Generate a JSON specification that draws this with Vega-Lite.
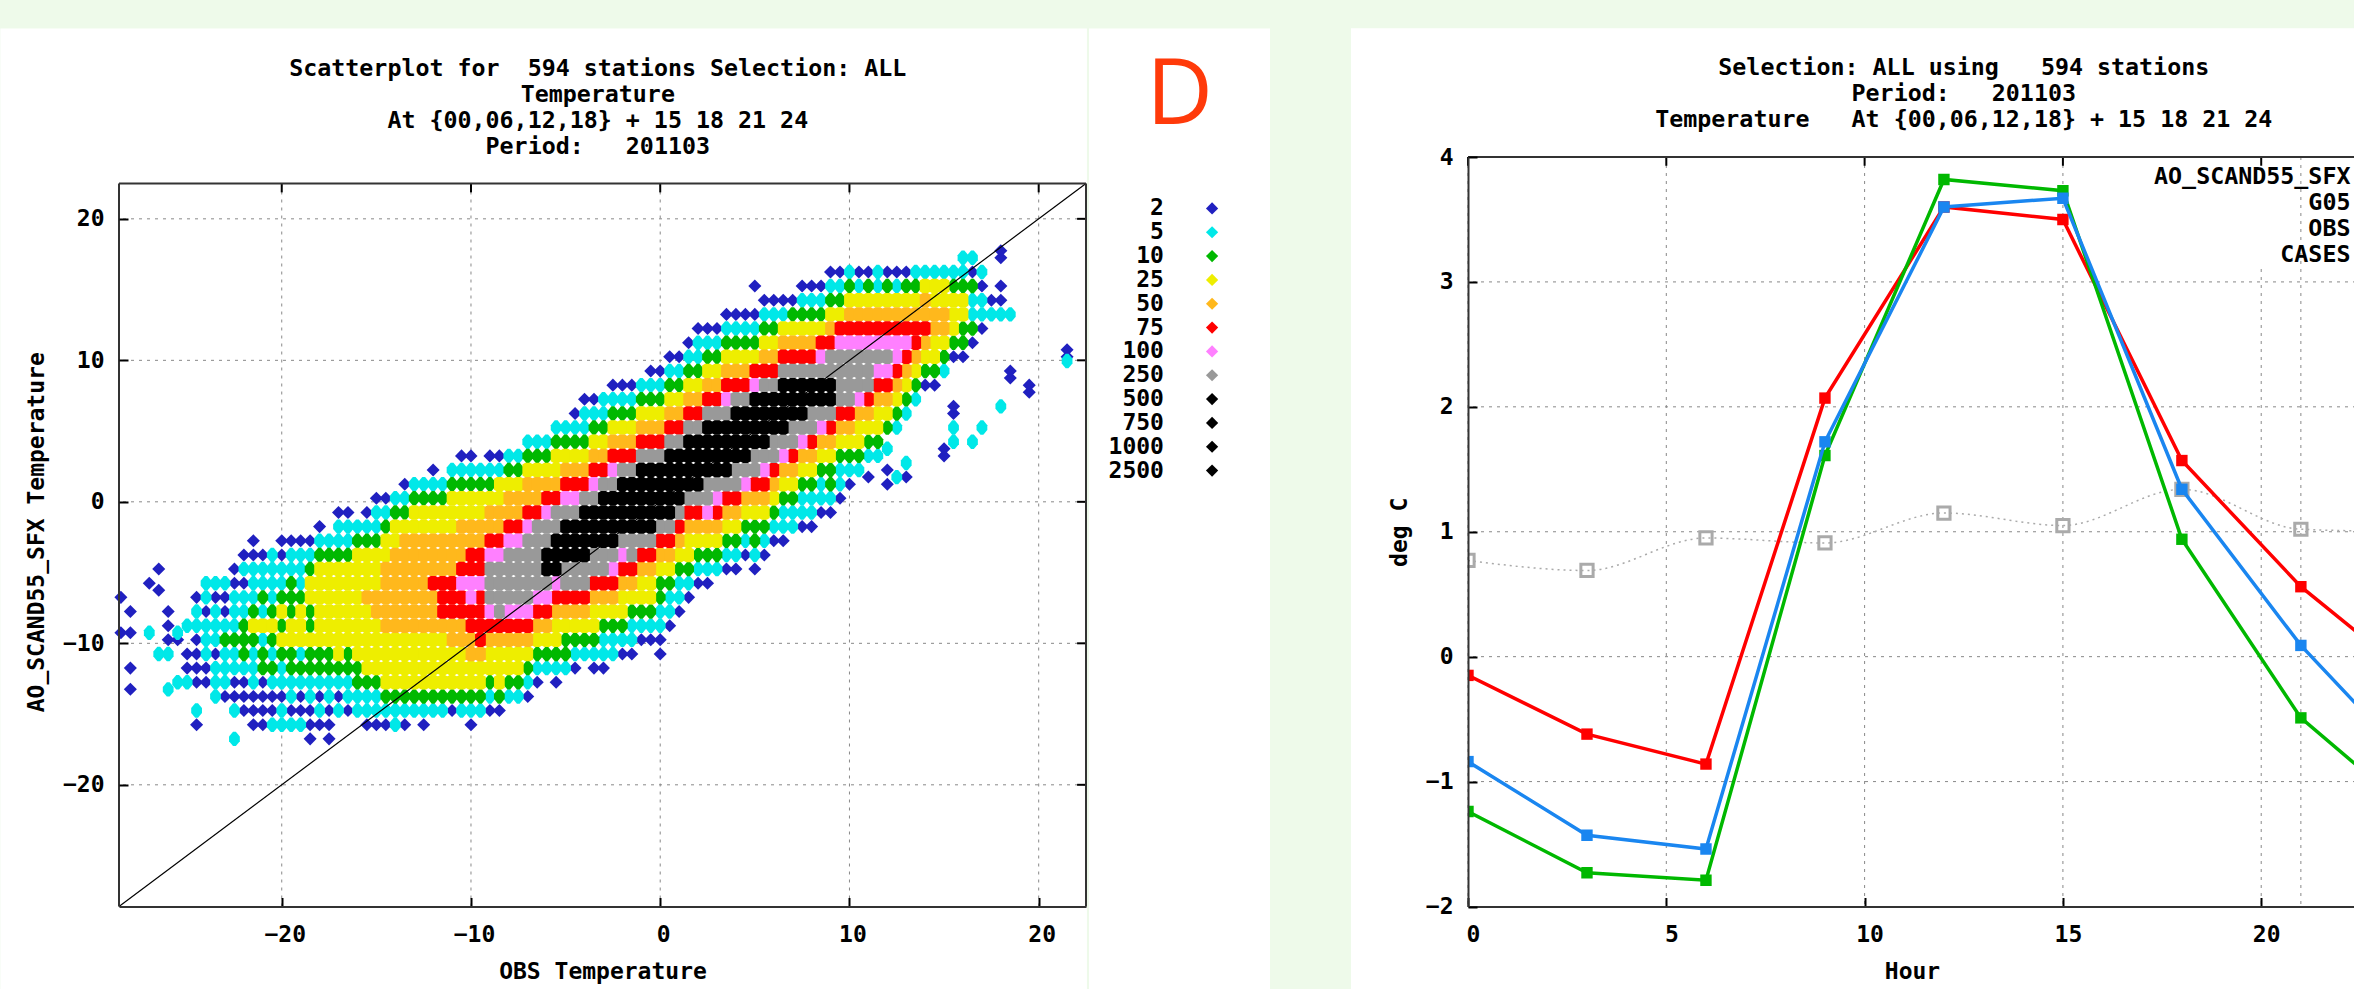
{"$schema":"https://vega.github.io/schema/vega-lite/v6.json","background":"#eefaea","padding":{"left":0,"top":28,"right":0,"bottom":0},"autosize":{"type":"pad"},"config":{"view":{"stroke":null},"font":"DejaVu Sans Mono","axis":{"labelFont":"DejaVu Sans Mono","titleFont":"DejaVu Sans Mono","labelFontWeight":"bold","titleFontWeight":"bold","labelFontSize":23,"titleFontSize":23,"labelColor":"#000","titleColor":"#000","domainColor":"#333","domainWidth":2,"tickColor":"#000","tickWidth":2,"grid":false}},"resolve":{"scale":{"color":"independent"}},"hconcat":[{"resolve":{"scale":{"color":"independent"}},"hconcat":[{"width":967,"height":749.5,"layer":[{"data":{"values":[{}]},"mark":{"type":"rect","fill":"white"},"encoding":{"x":{"datum":-34.87,"scale":{"domain":[-28.6,22.5],"nice":false,"zero":false},"axis":{"values":[-20,-10,0,10,20],"title":"OBS Temperature","tickSize":-9,"labelPadding":26,"titlePadding":14,"labelOffset":3,"labelFlush":false,"labelOverlap":false,"zindex":1}},"x2":{"datum":22.55},"y":{"datum":33.45,"scale":{"domain":[-28.6,24.37],"nice":false,"zero":false},"axis":{"values":[-20,-10,0,10,20],"title":"AO_SCAND55_SFX Temperature","tickSize":-9,"labelPadding":24,"titlePadding":14,"zindex":1,"domain":false}},"y2":{"datum":-34.47}}},{"data":{"name":"ticks"},"mark":{"type":"rule","color":"#888","strokeWidth":1,"strokeDash":[3,5]},"encoding":{"x":{"field":"v","type":"quantitative"},"y":{"datum":-28.6},"y2":{"datum":22.5}}},{"data":{"name":"ticks"},"mark":{"type":"rule","color":"#888","strokeWidth":1,"strokeDash":[3,5]},"encoding":{"y":{"field":"v","type":"quantitative"}}},{"data":{"name":"cells"},"transform":[{"filter":"datum.n<=2"}],"mark":{"type":"point","filled":true,"shape":"diamond","size":170,"opacity":1,"yOffset":-3.5},"encoding":{"x":{"field":"x","type":"quantitative"},"y":{"field":"y","type":"quantitative"},"color":{"value":"#2020c0"}}},{"data":{"name":"cells"},"transform":[{"filter":"datum.n==5||datum.n==10"}],"mark":{"type":"point","filled":true,"opacity":1,"size":196,"yOffset":-3.5,"shape":"M-0.2,-1.03L0.2,-1.03L0.77,-0.35L0.77,0.35L0.2,1.03L-0.2,1.03L-0.77,0.35L-0.77,-0.35Z"},"encoding":{"x":{"field":"x","type":"quantitative"},"y":{"field":"y","type":"quantitative"},"color":{"field":"n","type":"ordinal","legend":null,"scale":{"domain":[2,5,10,25,50,75,100,250,500,750,1000,2500],"range":["#2020c0","#00e8e8","#00b800","#eeee00","#ffb81c","#ff0000","#ff80ff","#999999","#000000","#000000","#000000","#000000"]}},"order":{"field":"n"}}},{"data":{"name":"cells"},"transform":[{"filter":"datum.n>10"}],"mark":{"type":"point","filled":true,"opacity":1,"size":196,"yOffset":-3.5,"shape":"M-0.35,-1.03L0.35,-1.03L0.77,-0.78L0.77,0.78L0.35,1.03L-0.35,1.03L-0.77,0.78L-0.77,-0.78Z"},"encoding":{"x":{"field":"x","type":"quantitative"},"y":{"field":"y","type":"quantitative"},"color":{"field":"n","type":"ordinal","legend":null},"order":{"field":"n"}}},{"data":{"values":[{"a":-28.6},{"a":22.5}]},"mark":{"type":"line","color":"#000","strokeWidth":1.2},"encoding":{"x":{"field":"a","type":"quantitative"},"y":{"field":"a","type":"quantitative"}}},{"data":{"name":"ticks"},"mark":{"type":"rule","color":"#000","strokeWidth":2},"encoding":{"x":{"field":"v","type":"quantitative"},"y":{"datum":22.5},"y2":{"datum":21.87}}},{"data":{"name":"ticks"},"mark":{"type":"rule","color":"#000","strokeWidth":2},"encoding":{"y":{"field":"v","type":"quantitative"},"x":{"datum":22.5},"x2":{"datum":22.03}}},{"data":{"values":[{}]},"mark":{"type":"rule","color":"#333","strokeWidth":2},"encoding":{"x":{"datum":-28.6},"x2":{"datum":22.5},"y":{"datum":22.5}}},{"data":{"values":[{}]},"mark":{"type":"rule","color":"#333","strokeWidth":2},"encoding":{"x":{"datum":22.5},"y":{"datum":-28.6},"y2":{"datum":22.5}}},{"data":{"values":[{}]},"mark":{"type":"rule","color":"#333","strokeWidth":2},"encoding":{"x":{"datum":-28.6},"y":{"datum":-28.6},"y2":{"datum":22.5}}},{"data":{"values":[{}]},"mark":{"type":"text","align":"center","baseline":"top","font":"DejaVu Sans Mono","fontWeight":"bold","fontSize":23.3,"lineHeight":26,"color":"#000"},"encoding":{"x":{"datum":-3.3},"y":{"datum":31.4},"text":{"value":["Scatterplot for \u00a0594 stations Selection: ALL","Temperature","At {00,06,12,18} + 15 18 21 24","Period: \u00a0 201103"]}}}]},{"width":181,"height":749.5,"resolve":{"scale":{"y":"independent"}},"layer":[{"data":{"values":[{}]},"mark":{"type":"rect","fill":"white"},"encoding":{"x":{"datum":0,"scale":{"domain":[0,1],"nice":false},"axis":null},"x2":{"datum":1},"y":{"datum":1.1714,"scale":{"domain":[0,1],"nice":false},"axis":null},"y2":{"datum":-0.1107}}},{"data":{"name":"legend"},"mark":{"type":"text","align":"right","baseline":"middle","font":"DejaVu Sans Mono","fontWeight":"bold","fontSize":23,"color":"#000"},"encoding":{"x":{"datum":0.414},"y":{"field":"n","type":"ordinal","sort":null,"axis":null,"scale":{"type":"point","range":[39.5,325.5]}},"text":{"field":"n"}}},{"data":{"name":"legend"},"mark":{"type":"point","filled":true,"shape":"diamond","size":150,"opacity":1},"encoding":{"x":{"datum":0.68},"y":{"field":"n","type":"ordinal","sort":null,"axis":null,"scale":{"type":"point","range":[39.5,325.5]}},"color":{"field":"n","type":"ordinal","legend":null,"scale":{"domain":[2,5,10,25,50,75,100,250,500,750,1000,2500],"range":["#2020c0","#00e8e8","#00b800","#eeee00","#ffb81c","#ff0000","#ff80ff","#999999","#000000","#000000","#000000","#000000"]}}}},{"data":{"values":[{"t":"D"}]},"mark":{"type":"text","font":"Open Sans","fontSize":92,"color":"#ff3a0a","align":"center","baseline":"middle"},"encoding":{"x":{"datum":0.5},"y":{"datum":1.082,"scale":{"domain":[0,1],"nice":false},"axis":null},"text":{"field":"t"}}}]}],"spacing":0},{"width":888,"height":749.5,"layer":[{"data":{"values":[{}]},"mark":{"type":"rect","fill":"white"},"encoding":{"x":{"datum":-2.95,"scale":{"domain":[0,22.39],"nice":false,"zero":false},"axis":{"values":[0,5,10,15,20],"title":"Hour","tickSize":-9,"labelPadding":26,"titlePadding":14,"labelOffset":5,"labelFlush":false,"zindex":1}},"x2":{"datum":22.39},"y":{"datum":5.03,"scale":{"domain":[-2,4],"nice":false,"zero":false},"axis":{"values":[-2,-1,0,1,2,3,4],"format":"d","title":"deg C","tickSize":-9,"labelPadding":24,"titlePadding":14,"zindex":1}},"y2":{"datum":-2.665}}},{"data":{"values":[{"v":0},{"v":5},{"v":10},{"v":15},{"v":20}]},"mark":{"type":"rule","color":"#888","strokeWidth":1,"strokeDash":[3,5]},"encoding":{"x":{"field":"v","type":"quantitative"}}},{"data":{"values":[{"v":-1},{"v":0},{"v":1},{"v":2},{"v":3}]},"mark":{"type":"rule","color":"#888","strokeWidth":1,"strokeDash":[3,5]},"encoding":{"y":{"field":"v","type":"quantitative"}}},{"data":{"values":[{}]},"mark":{"type":"rect","fill":"white"},"encoding":{"x":{"datum":17.3},"x2":{"datum":22.39},"y":{"datum":3.98},"y2":{"datum":3.107}}},{"data":{"values":[{"v":21}]},"mark":{"type":"rule","color":"#888","strokeWidth":1,"strokeDash":[3,5]},"encoding":{"x":{"field":"v","type":"quantitative"}}},{"data":{"name":"series"},"transform":[{"filter":"datum.s==='CASES'"}],"mark":{"type":"line","clip":true,"color":"#aaaaaa","strokeWidth":1.5,"strokeDash":[2,4],"interpolate":"monotone"},"encoding":{"x":{"field":"h","type":"quantitative"},"y":{"field":"v","type":"quantitative"}}},{"data":{"name":"series"},"transform":[{"filter":"datum.s==='CASES'"}],"mark":{"type":"point","clip":true,"shape":"square","size":150,"color":"#aaaaaa","strokeWidth":3,"filled":false,"opacity":1},"encoding":{"x":{"field":"h","type":"quantitative"},"y":{"field":"v","type":"quantitative"}}},{"data":{"name":"series"},"transform":[{"filter":"datum.s==='OBS'"}],"mark":{"type":"line","clip":true,"strokeWidth":3.5,"color":"#ff0000","point":{"filled":true,"shape":"square","size":130,"color":"#ff0000","opacity":1}},"encoding":{"x":{"field":"h","type":"quantitative"},"y":{"field":"v","type":"quantitative"}}},{"data":{"name":"series"},"transform":[{"filter":"datum.s==='G05'"}],"mark":{"type":"line","clip":true,"strokeWidth":3.5,"color":"#00b800","point":{"filled":true,"shape":"square","size":130,"color":"#00b800","opacity":1}},"encoding":{"x":{"field":"h","type":"quantitative"},"y":{"field":"v","type":"quantitative"}}},{"data":{"name":"series"},"transform":[{"filter":"datum.s==='AO_SCAND55_SFX'"}],"mark":{"type":"line","clip":true,"strokeWidth":3.5,"color":"#1a86f0","point":{"filled":true,"shape":"square","size":130,"color":"#1a86f0","opacity":1}},"encoding":{"x":{"field":"h","type":"quantitative"},"y":{"field":"v","type":"quantitative"}}},{"data":{"values":[{"v":0},{"v":5},{"v":10},{"v":15},{"v":20}]},"mark":{"type":"rule","color":"#000","strokeWidth":2},"encoding":{"x":{"field":"v","type":"quantitative"},"y":{"datum":4},"y2":{"datum":3.93}}},{"data":{"values":[{}]},"mark":{"type":"text","align":"right","baseline":"top","font":"DejaVu Sans Mono","fontWeight":"bold","fontSize":23.3,"lineHeight":26,"color":"#000"},"encoding":{"x":{"datum":22.25},"y":{"datum":3.93},"text":{"value":["AO_SCAND55_SFX","G05","OBS","CASES"]}}},{"data":{"values":[{}]},"mark":{"type":"text","align":"center","baseline":"top","font":"DejaVu Sans Mono","fontWeight":"bold","fontSize":23.3,"lineHeight":26,"color":"#000"},"encoding":{"x":{"datum":12.5},"y":{"datum":4.8},"text":{"value":["Selection: ALL using \u00a0 594 stations","Period: \u00a0 201103","Temperature \u00a0 At {00,06,12,18} + 15 18 21 24"]}}},{"data":{"values":[{}]},"mark":{"type":"rule","color":"#333","strokeWidth":2},"encoding":{"x":{"datum":0},"x2":{"datum":22.39},"y":{"datum":4}}}]}],"spacing":81,"datasets":{"ticks":[{"v":-20},{"v":-10},{"v":0},{"v":10},{"v":20}],"legend":[{"n":2},{"n":5},{"n":10},{"n":25},{"n":50},{"n":75},{"n":100},{"n":250},{"n":500},{"n":750},{"n":1000},{"n":2500}],"series":[{"s":"OBS","h":0,"v":-0.15},{"s":"OBS","h":3,"v":-0.62},{"s":"OBS","h":6,"v":-0.86},{"s":"OBS","h":9,"v":2.07},{"s":"OBS","h":12,"v":3.6},{"s":"OBS","h":15,"v":3.5},{"s":"OBS","h":18,"v":1.57},{"s":"OBS","h":21,"v":0.56},{"s":"OBS","h":24,"v":-0.21},{"s":"G05","h":0,"v":-1.24},{"s":"G05","h":3,"v":-1.73},{"s":"G05","h":6,"v":-1.79},{"s":"G05","h":9,"v":1.61},{"s":"G05","h":12,"v":3.82},{"s":"G05","h":15,"v":3.73},{"s":"G05","h":18,"v":0.94},{"s":"G05","h":21,"v":-0.49},{"s":"G05","h":24,"v":-1.3},{"s":"AO_SCAND55_SFX","h":0,"v":-0.84},{"s":"AO_SCAND55_SFX","h":3,"v":-1.43},{"s":"AO_SCAND55_SFX","h":6,"v":-1.54},{"s":"AO_SCAND55_SFX","h":9,"v":1.72},{"s":"AO_SCAND55_SFX","h":12,"v":3.6},{"s":"AO_SCAND55_SFX","h":15,"v":3.67},{"s":"AO_SCAND55_SFX","h":18,"v":1.34},{"s":"AO_SCAND55_SFX","h":21,"v":0.09},{"s":"AO_SCAND55_SFX","h":24,"v":-0.92},{"s":"CASES","h":0,"v":0.77},{"s":"CASES","h":3,"v":0.69},{"s":"CASES","h":6,"v":0.95},{"s":"CASES","h":9,"v":0.91},{"s":"CASES","h":12,"v":1.15},{"s":"CASES","h":15,"v":1.05},{"s":"CASES","h":18,"v":1.34},{"s":"CASES","h":21,"v":1.02},{"s":"CASES","h":24,"v":1.0}],"cells":[
{"x":-28.5,"y":-7,"n":2},{"x":-28.5,"y":-9.5,"n":2},{"x":-28,"y":-8,"n":2},{"x":-28,"y":-9.5,"n":2},{"x":-28,"y":-12,"n":2},{"x":-28,"y":-13.5,"n":2},{"x":-27,"y":-6,"n":2},{"x":-27,"y":-9.5,"n":5},{"x":-26.5,"y":-5,"n":2},{"x":-26.5,"y":-6.5,"n":2},{"x":-26.5,"y":-11,"n":5},{"x":-26,"y":-8,"n":2},{"x":-26,"y":-9,"n":2},{"x":-26,"y":-10,"n":2},{"x":-26,"y":-11,"n":5},{"x":-26,"y":-13.5,"n":5},{"x":-25.5,"y":-9.5,"n":5},{"x":-25.5,"y":-13,"n":5},{"x":-25.5,"y":-10,"n":2},{"x":-25,"y":-9,"n":5},{"x":-25,"y":-11,"n":2},{"x":-25,"y":-12,"n":2},{"x":-25,"y":-13,"n":5},
{"x":-24.5,"y":-16,"n":2},{"x":-24.5,"y":-15,"n":5},{"x":-24.5,"y":-13,"n":2},{"x":-24.5,"y":-12,"n":2},{"x":-24.5,"y":-11,"n":2},{"x":-24.5,"y":-10,"n":2},{"x":-24.5,"y":-9,"n":5},{"x":-24.5,"y":-8,"n":5},{"x":-24.5,"y":-7,"n":2},
{"x":-24,"y":-13,"n":2},{"x":-24,"y":-12,"n":2},{"x":-24,"y":-11,"n":5},{"x":-24,"y":-10,"n":5},{"x":-24,"y":-9,"n":5},{"x":-24,"y":-8,"n":2},{"x":-24,"y":-7,"n":5},{"x":-24,"y":-6,"n":5},
{"x":-23.5,"y":-14,"n":5},{"x":-23.5,"y":-13,"n":5},{"x":-23.5,"y":-12,"n":5},{"x":-23.5,"y":-11,"n":2},{"x":-23.5,"y":-10,"n":5},{"x":-23.5,"y":-9,"n":5},{"x":-23.5,"y":-8,"n":5},{"x":-23.5,"y":-7,"n":2},{"x":-23.5,"y":-6,"n":5},
{"x":-23,"y":-14,"n":2},{"x":-23,"y":-13,"n":5},{"x":-23,"y":-12,"n":5},{"x":-23,"y":-11,"n":5},{"x":-23,"y":-10,"n":10},{"x":-23,"y":-9,"n":5},{"x":-23,"y":-8,"n":2},{"x":-23,"y":-7,"n":2},{"x":-23,"y":-6,"n":5},
{"x":-22.5,"y":-17,"n":5},{"x":-22.5,"y":-15,"n":5},{"x":-22.5,"y":-14,"n":2},{"x":-22.5,"y":-13,"n":2},{"x":-22.5,"y":-12,"n":5},{"x":-22.5,"y":-11,"n":5},{"x":-22.5,"y":-10,"n":10},{"x":-22.5,"y":-9,"n":5},{"x":-22.5,"y":-8,"n":5},{"x":-22.5,"y":-7,"n":5},{"x":-22.5,"y":-6,"n":2},{"x":-22.5,"y":-5,"n":2},
{"x":-22,"y":-15,"n":2},{"x":-22,"y":-14,"n":2},{"x":-22,"y":-13,"n":2},{"x":-22,"y":-12,"n":5},{"x":-22,"y":-11,"n":10},{"x":-22,"y":-10,"n":10},{"x":-22,"y":-9,"n":10},{"x":-22,"y":-8,"n":5},{"x":-22,"y":-7,"n":5},{"x":-22,"y":-6,"n":2},{"x":-22,"y":-5,"n":5},{"x":-22,"y":-4,"n":2},
{"x":-21.5,"y":-16,"n":2},{"x":-21.5,"y":-15,"n":2},{"x":-21.5,"y":-14,"n":2},{"x":-21.5,"y":-13,"n":5},{"x":-21.5,"y":-12,"n":5},{"x":-21.5,"y":-11,"n":5},{"x":-21.5,"y":-10,"n":10},{"x":-21.5,"y":-9,"n":25},{"x":-21.5,"y":-8,"n":10},{"x":-21.5,"y":-7,"n":5},{"x":-21.5,"y":-6,"n":5},{"x":-21.5,"y":-5,"n":5},{"x":-21.5,"y":-4,"n":2},{"x":-21.5,"y":-3,"n":2},
{"x":-21,"y":-16,"n":2},{"x":-21,"y":-15,"n":2},{"x":-21,"y":-14,"n":2},{"x":-21,"y":-13,"n":2},{"x":-21,"y":-12,"n":10},{"x":-21,"y":-11,"n":10},{"x":-21,"y":-10,"n":5},{"x":-21,"y":-9,"n":25},{"x":-21,"y":-8,"n":5},{"x":-21,"y":-7,"n":10},{"x":-21,"y":-6,"n":5},{"x":-21,"y":-5,"n":5},{"x":-21,"y":-4,"n":2},
{"x":-20.5,"y":-16,"n":5},{"x":-20.5,"y":-15,"n":2},{"x":-20.5,"y":-14,"n":2},{"x":-20.5,"y":-13,"n":5},{"x":-20.5,"y":-12,"n":10},{"x":-20.5,"y":-11,"n":5},{"x":-20.5,"y":-10,"n":10},{"x":-20.5,"y":-9,"n":25},{"x":-20.5,"y":-8,"n":10},{"x":-20.5,"y":-7,"n":5},{"x":-20.5,"y":-6,"n":5},{"x":-20.5,"y":-5,"n":5},{"x":-20.5,"y":-4,"n":5},
{"x":-20,"y":-16,"n":5},{"x":-20,"y":-15,"n":5},{"x":-20,"y":-14,"n":2},{"x":-20,"y":-13,"n":5},{"x":-20,"y":-12,"n":5},{"x":-20,"y":-11,"n":10},{"x":-20,"y":-10,"n":25},{"x":-20,"y":-9,"n":10},{"x":-20,"y":-8,"n":25},{"x":-20,"y":-7,"n":10},{"x":-20,"y":-6,"n":5},{"x":-20,"y":-5,"n":5},{"x":-20,"y":-4,"n":2},{"x":-20,"y":-3,"n":2},
{"x":-19.5,"y":-16,"n":5},{"x":-19.5,"y":-15,"n":2},{"x":-19.5,"y":-14,"n":5},{"x":-19.5,"y":-13,"n":5},{"x":-19.5,"y":-12,"n":10},{"x":-19.5,"y":-11,"n":10},{"x":-19.5,"y":-10,"n":25},{"x":-19.5,"y":-9,"n":25},{"x":-19.5,"y":-8,"n":10},{"x":-19.5,"y":-7,"n":10},{"x":-19.5,"y":-6,"n":10},{"x":-19.5,"y":-5,"n":5},{"x":-19.5,"y":-4,"n":5},{"x":-19.5,"y":-3,"n":2},
{"x":-19,"y":-16,"n":5},{"x":-19,"y":-15,"n":2},{"x":-19,"y":-14,"n":2},{"x":-19,"y":-13,"n":5},{"x":-19,"y":-12,"n":10},{"x":-19,"y":-11,"n":5},{"x":-19,"y":-10,"n":25},{"x":-19,"y":-9,"n":25},{"x":-19,"y":-8,"n":25},{"x":-19,"y":-7,"n":10},{"x":-19,"y":-6,"n":5},{"x":-19,"y":-5,"n":5},{"x":-19,"y":-4,"n":5},{"x":-19,"y":-3,"n":2},
{"x":-18.5,"y":-17,"n":2},{"x":-18.5,"y":-16,"n":2},{"x":-18.5,"y":-15,"n":2},{"x":-18.5,"y":-14,"n":5},{"x":-18.5,"y":-13,"n":5},{"x":-18.5,"y":-12,"n":10},{"x":-18.5,"y":-11,"n":10},{"x":-18.5,"y":-10,"n":25},{"x":-18.5,"y":-9,"n":10},{"x":-18.5,"y":-8,"n":10},{"x":-18.5,"y":-7,"n":25},{"x":-18.5,"y":-6,"n":25},{"x":-18.5,"y":-5,"n":10},{"x":-18.5,"y":-4,"n":5},{"x":-18.5,"y":-3,"n":2},
{"x":-18,"y":-16,"n":2},{"x":-18,"y":-15,"n":5},{"x":-18,"y":-14,"n":2},{"x":-18,"y":-13,"n":5},{"x":-18,"y":-12,"n":10},{"x":-18,"y":-11,"n":10},{"x":-18,"y":-10,"n":25},{"x":-18,"y":-9,"n":25},{"x":-18,"y":-8,"n":25},{"x":-18,"y":-7,"n":25},{"x":-18,"y":-6,"n":25},{"x":-18,"y":-5,"n":25},{"x":-18,"y":-4,"n":10},{"x":-18,"y":-3,"n":5},{"x":-18,"y":-2,"n":2},
{"x":-17.5,"y":-17,"n":2},{"x":-17.5,"y":-16,"n":2},{"x":-17.5,"y":-15,"n":2},{"x":-17.5,"y":-14,"n":5},{"x":-17.5,"y":-13,"n":5},{"x":-17.5,"y":-12,"n":10},{"x":-17.5,"y":-11,"n":10},{"x":-17.5,"y":-10,"n":25},{"x":-17.5,"y":-9,"n":25},{"x":-17.5,"y":-8,"n":25},{"x":-17.5,"y":-7,"n":25},{"x":-17.5,"y":-6,"n":25},{"x":-17.5,"y":-5,"n":25},{"x":-17.5,"y":-4,"n":10},{"x":-17.5,"y":-3,"n":5},
{"x":-17,"y":-15,"n":5},{"x":-17,"y":-14,"n":2},{"x":-17,"y":-13,"n":5},{"x":-17,"y":-12,"n":10},{"x":-17,"y":-11,"n":25},{"x":-17,"y":-10,"n":25},{"x":-17,"y":-9,"n":25},{"x":-17,"y":-8,"n":25},{"x":-17,"y":-7,"n":25},{"x":-17,"y":-6,"n":25},{"x":-17,"y":-5,"n":25},{"x":-17,"y":-4,"n":10},{"x":-17,"y":-3,"n":5},{"x":-17,"y":-2,"n":5},{"x":-17,"y":-1,"n":2},
{"x":-16.5,"y":-15,"n":2},{"x":-16.5,"y":-14,"n":5},{"x":-16.5,"y":-13,"n":5},{"x":-16.5,"y":-12,"n":10},{"x":-16.5,"y":-11,"n":10},{"x":-16.5,"y":-10,"n":25},{"x":-16.5,"y":-9,"n":25},{"x":-16.5,"y":-8,"n":25},{"x":-16.5,"y":-7,"n":25},{"x":-16.5,"y":-6,"n":25},{"x":-16.5,"y":-5,"n":25},{"x":-16.5,"y":-4,"n":10},{"x":-16.5,"y":-3,"n":5},{"x":-16.5,"y":-2,"n":5},{"x":-16.5,"y":-1,"n":2},
{"x":-16,"y":-15,"n":5},{"x":-16,"y":-14,"n":5},{"x":-16,"y":-13,"n":10},{"x":-16,"y":-12,"n":10},{"x":-16,"y":-11,"n":25},{"x":-16,"y":-10,"n":25},{"x":-16,"y":-9,"n":25},{"x":-16,"y":-8,"n":25},{"x":-16,"y":-7,"n":25},{"x":-16,"y":-6,"n":25},{"x":-16,"y":-5,"n":25},{"x":-16,"y":-4,"n":25},{"x":-16,"y":-3,"n":10},{"x":-16,"y":-2,"n":5},
{"x":-15.5,"y":-16,"n":2},{"x":-15.5,"y":-15,"n":5},{"x":-15.5,"y":-14,"n":5},{"x":-15.5,"y":-13,"n":10},{"x":-15.5,"y":-12,"n":25},{"x":-15.5,"y":-11,"n":25},{"x":-15.5,"y":-10,"n":25},{"x":-15.5,"y":-9,"n":25},{"x":-15.5,"y":-8,"n":25},{"x":-15.5,"y":-7,"n":50},{"x":-15.5,"y":-6,"n":25},{"x":-15.5,"y":-5,"n":25},{"x":-15.5,"y":-4,"n":25},{"x":-15.5,"y":-3,"n":10},{"x":-15.5,"y":-2,"n":5},{"x":-15.5,"y":-1,"n":2},
{"x":-15,"y":-16,"n":2},{"x":-15,"y":-15,"n":5},{"x":-15,"y":-14,"n":5},{"x":-15,"y":-13,"n":10},{"x":-15,"y":-12,"n":25},{"x":-15,"y":-11,"n":25},{"x":-15,"y":-10,"n":25},{"x":-15,"y":-9,"n":25},{"x":-15,"y":-8,"n":50},{"x":-15,"y":-7,"n":50},{"x":-15,"y":-6,"n":25},{"x":-15,"y":-5,"n":25},{"x":-15,"y":-4,"n":25},{"x":-15,"y":-3,"n":10},{"x":-15,"y":-2,"n":5},{"x":-15,"y":-1,"n":5},{"x":-15,"y":0,"n":2},
{"x":-14.5,"y":-16,"n":2},{"x":-14.5,"y":-15,"n":5},{"x":-14.5,"y":-14,"n":10},{"x":-14.5,"y":-13,"n":25},{"x":-14.5,"y":-12,"n":25},{"x":-14.5,"y":-11,"n":25},{"x":-14.5,"y":-10,"n":25},{"x":-14.5,"y":-9,"n":50},{"x":-14.5,"y":-8,"n":50},{"x":-14.5,"y":-7,"n":50},{"x":-14.5,"y":-6,"n":50},{"x":-14.5,"y":-5,"n":50},{"x":-14.5,"y":-4,"n":25},{"x":-14.5,"y":-3,"n":25},{"x":-14.5,"y":-2,"n":10},{"x":-14.5,"y":-1,"n":5},{"x":-14.5,"y":0,"n":2},
{"x":-14,"y":-16,"n":5},{"x":-14,"y":-15,"n":5},{"x":-14,"y":-14,"n":10},{"x":-14,"y":-13,"n":25},{"x":-14,"y":-12,"n":25},{"x":-14,"y":-11,"n":25},{"x":-14,"y":-10,"n":25},{"x":-14,"y":-9,"n":50},{"x":-14,"y":-8,"n":50},{"x":-14,"y":-7,"n":50},{"x":-14,"y":-6,"n":50},{"x":-14,"y":-5,"n":50},{"x":-14,"y":-4,"n":50},{"x":-14,"y":-3,"n":25},{"x":-14,"y":-2,"n":25},{"x":-14,"y":-1,"n":10},{"x":-14,"y":0,"n":5},
{"x":-13.5,"y":-16,"n":2},{"x":-13.5,"y":-15,"n":5},{"x":-13.5,"y":-14,"n":10},{"x":-13.5,"y":-13,"n":25},{"x":-13.5,"y":-12,"n":25},{"x":-13.5,"y":-11,"n":25},{"x":-13.5,"y":-10,"n":25},{"x":-13.5,"y":-9,"n":50},{"x":-13.5,"y":-8,"n":50},{"x":-13.5,"y":-7,"n":50},{"x":-13.5,"y":-6,"n":50},{"x":-13.5,"y":-5,"n":50},{"x":-13.5,"y":-4,"n":50},{"x":-13.5,"y":-3,"n":50},{"x":-13.5,"y":-2,"n":25},{"x":-13.5,"y":-1,"n":10},{"x":-13.5,"y":0,"n":5},{"x":-13.5,"y":1,"n":2},
{"x":-13,"y":-15,"n":5},{"x":-13,"y":-14,"n":10},{"x":-13,"y":-13,"n":25},{"x":-13,"y":-12,"n":25},{"x":-13,"y":-11,"n":25},{"x":-13,"y":-10,"n":25},{"x":-13,"y":-9,"n":50},{"x":-13,"y":-8,"n":50},{"x":-13,"y":-7,"n":50},{"x":-13,"y":-6,"n":50},{"x":-13,"y":-5,"n":50},{"x":-13,"y":-4,"n":50},{"x":-13,"y":-3,"n":50},{"x":-13,"y":-2,"n":25},{"x":-13,"y":-1,"n":25},{"x":-13,"y":0,"n":10},{"x":-13,"y":1,"n":5},
{"x":-12.5,"y":-16,"n":2},{"x":-12.5,"y":-15,"n":5},{"x":-12.5,"y":-14,"n":10},{"x":-12.5,"y":-13,"n":25},{"x":-12.5,"y":-12,"n":25},{"x":-12.5,"y":-11,"n":25},{"x":-12.5,"y":-10,"n":25},{"x":-12.5,"y":-9,"n":50},{"x":-12.5,"y":-8,"n":50},{"x":-12.5,"y":-7,"n":50},{"x":-12.5,"y":-6,"n":50},{"x":-12.5,"y":-5,"n":50},{"x":-12.5,"y":-4,"n":50},{"x":-12.5,"y":-3,"n":50},{"x":-12.5,"y":-2,"n":25},{"x":-12.5,"y":-1,"n":25},{"x":-12.5,"y":0,"n":10},{"x":-12.5,"y":1,"n":5},
{"x":-12,"y":-15,"n":5},{"x":-12,"y":-14,"n":10},{"x":-12,"y":-13,"n":25},{"x":-12,"y":-12,"n":25},{"x":-12,"y":-11,"n":25},{"x":-12,"y":-10,"n":25},{"x":-12,"y":-9,"n":50},{"x":-12,"y":-8,"n":50},{"x":-12,"y":-7,"n":50},{"x":-12,"y":-6,"n":75},{"x":-12,"y":-5,"n":50},{"x":-12,"y":-4,"n":50},{"x":-12,"y":-3,"n":50},{"x":-12,"y":-2,"n":25},{"x":-12,"y":-1,"n":25},{"x":-12,"y":0,"n":10},{"x":-12,"y":1,"n":5},{"x":-12,"y":2,"n":2},
{"x":-11.5,"y":-15,"n":5},{"x":-11.5,"y":-14,"n":10},{"x":-11.5,"y":-13,"n":25},{"x":-11.5,"y":-12,"n":25},{"x":-11.5,"y":-11,"n":25},{"x":-11.5,"y":-10,"n":25},{"x":-11.5,"y":-9,"n":50},{"x":-11.5,"y":-8,"n":75},{"x":-11.5,"y":-7,"n":75},{"x":-11.5,"y":-6,"n":75},{"x":-11.5,"y":-5,"n":50},{"x":-11.5,"y":-4,"n":50},{"x":-11.5,"y":-3,"n":50},{"x":-11.5,"y":-2,"n":25},{"x":-11.5,"y":-1,"n":25},{"x":-11.5,"y":0,"n":10},{"x":-11.5,"y":1,"n":5},
{"x":-11,"y":-15,"n":2},{"x":-11,"y":-14,"n":10},{"x":-11,"y":-13,"n":25},{"x":-11,"y":-12,"n":25},{"x":-11,"y":-11,"n":25},{"x":-11,"y":-10,"n":50},{"x":-11,"y":-9,"n":50},{"x":-11,"y":-8,"n":75},{"x":-11,"y":-7,"n":75},{"x":-11,"y":-6,"n":75},{"x":-11,"y":-5,"n":50},{"x":-11,"y":-4,"n":50},{"x":-11,"y":-3,"n":50},{"x":-11,"y":-2,"n":25},{"x":-11,"y":-1,"n":25},{"x":-11,"y":0,"n":25},{"x":-11,"y":1,"n":10},{"x":-11,"y":2,"n":5},
{"x":-10.5,"y":-15,"n":5},{"x":-10.5,"y":-14,"n":10},{"x":-10.5,"y":-13,"n":25},{"x":-10.5,"y":-12,"n":25},{"x":-10.5,"y":-11,"n":25},{"x":-10.5,"y":-10,"n":50},{"x":-10.5,"y":-9,"n":50},{"x":-10.5,"y":-8,"n":75},{"x":-10.5,"y":-7,"n":75},{"x":-10.5,"y":-6,"n":100},{"x":-10.5,"y":-5,"n":75},{"x":-10.5,"y":-4,"n":50},{"x":-10.5,"y":-3,"n":50},{"x":-10.5,"y":-2,"n":50},{"x":-10.5,"y":-1,"n":25},{"x":-10.5,"y":0,"n":25},{"x":-10.5,"y":1,"n":10},{"x":-10.5,"y":2,"n":5},{"x":-10.5,"y":3,"n":2},
{"x":-10,"y":-16,"n":2},{"x":-10,"y":-15,"n":5},{"x":-10,"y":-14,"n":10},{"x":-10,"y":-13,"n":25},{"x":-10,"y":-12,"n":25},{"x":-10,"y":-11,"n":50},{"x":-10,"y":-10,"n":50},{"x":-10,"y":-9,"n":75},{"x":-10,"y":-8,"n":75},{"x":-10,"y":-7,"n":100},{"x":-10,"y":-6,"n":100},{"x":-10,"y":-5,"n":75},{"x":-10,"y":-4,"n":75},{"x":-10,"y":-3,"n":50},{"x":-10,"y":-2,"n":50},{"x":-10,"y":-1,"n":25},{"x":-10,"y":0,"n":25},{"x":-10,"y":1,"n":10},{"x":-10,"y":2,"n":5},{"x":-10,"y":3,"n":2},
{"x":-9.5,"y":-15,"n":5},{"x":-9.5,"y":-14,"n":10},{"x":-9.5,"y":-13,"n":25},{"x":-9.5,"y":-12,"n":25},{"x":-9.5,"y":-11,"n":50},{"x":-9.5,"y":-10,"n":75},{"x":-9.5,"y":-9,"n":75},{"x":-9.5,"y":-8,"n":75},{"x":-9.5,"y":-7,"n":75},{"x":-9.5,"y":-6,"n":100},{"x":-9.5,"y":-5,"n":75},{"x":-9.5,"y":-4,"n":75},{"x":-9.5,"y":-3,"n":50},{"x":-9.5,"y":-2,"n":50},{"x":-9.5,"y":-1,"n":25},{"x":-9.5,"y":0,"n":25},{"x":-9.5,"y":1,"n":10},{"x":-9.5,"y":2,"n":5},
{"x":-9,"y":-15,"n":2},{"x":-9,"y":-14,"n":5},{"x":-9,"y":-13,"n":10},{"x":-9,"y":-12,"n":25},{"x":-9,"y":-11,"n":25},{"x":-9,"y":-10,"n":50},{"x":-9,"y":-9,"n":75},{"x":-9,"y":-8,"n":100},{"x":-9,"y":-7,"n":250},{"x":-9,"y":-6,"n":250},{"x":-9,"y":-5,"n":250},{"x":-9,"y":-4,"n":100},{"x":-9,"y":-3,"n":75},{"x":-9,"y":-2,"n":50},{"x":-9,"y":-1,"n":50},{"x":-9,"y":0,"n":25},{"x":-9,"y":1,"n":10},{"x":-9,"y":2,"n":5},{"x":-9,"y":3,"n":2},
{"x":-8.5,"y":-15,"n":2},{"x":-8.5,"y":-14,"n":10},{"x":-8.5,"y":-13,"n":25},{"x":-8.5,"y":-12,"n":25},{"x":-8.5,"y":-11,"n":25},{"x":-8.5,"y":-10,"n":50},{"x":-8.5,"y":-9,"n":75},{"x":-8.5,"y":-8,"n":250},{"x":-8.5,"y":-7,"n":250},{"x":-8.5,"y":-6,"n":250},{"x":-8.5,"y":-5,"n":250},{"x":-8.5,"y":-4,"n":100},{"x":-8.5,"y":-3,"n":75},{"x":-8.5,"y":-2,"n":50},{"x":-8.5,"y":-1,"n":50},{"x":-8.5,"y":0,"n":25},{"x":-8.5,"y":1,"n":25},{"x":-8.5,"y":2,"n":5},{"x":-8.5,"y":3,"n":2},
{"x":-8,"y":-14,"n":5},{"x":-8,"y":-13,"n":10},{"x":-8,"y":-12,"n":25},{"x":-8,"y":-11,"n":25},{"x":-8,"y":-10,"n":50},{"x":-8,"y":-9,"n":75},{"x":-8,"y":-8,"n":100},{"x":-8,"y":-7,"n":250},{"x":-8,"y":-6,"n":250},{"x":-8,"y":-5,"n":250},{"x":-8,"y":-4,"n":250},{"x":-8,"y":-3,"n":100},{"x":-8,"y":-2,"n":75},{"x":-8,"y":-1,"n":50},{"x":-8,"y":0,"n":50},{"x":-8,"y":1,"n":25},{"x":-8,"y":2,"n":10},{"x":-8,"y":3,"n":5},
{"x":-7.5,"y":-14,"n":5},{"x":-7.5,"y":-13,"n":10},{"x":-7.5,"y":-12,"n":25},{"x":-7.5,"y":-11,"n":25},{"x":-7.5,"y":-10,"n":50},{"x":-7.5,"y":-9,"n":75},{"x":-7.5,"y":-8,"n":100},{"x":-7.5,"y":-7,"n":250},{"x":-7.5,"y":-6,"n":250},{"x":-7.5,"y":-5,"n":250},{"x":-7.5,"y":-4,"n":250},{"x":-7.5,"y":-3,"n":100},{"x":-7.5,"y":-2,"n":75},{"x":-7.5,"y":-1,"n":50},{"x":-7.5,"y":0,"n":50},{"x":-7.5,"y":1,"n":25},{"x":-7.5,"y":2,"n":10},{"x":-7.5,"y":3,"n":5},
{"x":-7,"y":-14,"n":2},{"x":-7,"y":-13,"n":5},{"x":-7,"y":-12,"n":10},{"x":-7,"y":-11,"n":25},{"x":-7,"y":-10,"n":50},{"x":-7,"y":-9,"n":75},{"x":-7,"y":-8,"n":100},{"x":-7,"y":-7,"n":250},{"x":-7,"y":-6,"n":250},{"x":-7,"y":-5,"n":250},{"x":-7,"y":-4,"n":250},{"x":-7,"y":-3,"n":250},{"x":-7,"y":-2,"n":100},{"x":-7,"y":-1,"n":75},{"x":-7,"y":0,"n":50},{"x":-7,"y":1,"n":50},{"x":-7,"y":2,"n":25},{"x":-7,"y":3,"n":10},{"x":-7,"y":4,"n":5},
{"x":-6.5,"y":-13,"n":2},{"x":-6.5,"y":-12,"n":5},{"x":-6.5,"y":-11,"n":10},{"x":-6.5,"y":-10,"n":25},{"x":-6.5,"y":-9,"n":50},{"x":-6.5,"y":-8,"n":75},{"x":-6.5,"y":-7,"n":100},{"x":-6.5,"y":-6,"n":250},{"x":-6.5,"y":-5,"n":250},{"x":-6.5,"y":-4,"n":250},{"x":-6.5,"y":-3,"n":250},{"x":-6.5,"y":-2,"n":250},{"x":-6.5,"y":-1,"n":75},{"x":-6.5,"y":0,"n":50},{"x":-6.5,"y":1,"n":50},{"x":-6.5,"y":2,"n":25},{"x":-6.5,"y":3,"n":10},{"x":-6.5,"y":4,"n":5},
{"x":-6,"y":-12,"n":5},{"x":-6,"y":-11,"n":10},{"x":-6,"y":-10,"n":25},{"x":-6,"y":-9,"n":50},{"x":-6,"y":-8,"n":75},{"x":-6,"y":-7,"n":100},{"x":-6,"y":-6,"n":250},{"x":-6,"y":-5,"n":500},{"x":-6,"y":-4,"n":500},{"x":-6,"y":-3,"n":250},{"x":-6,"y":-2,"n":250},{"x":-6,"y":-1,"n":100},{"x":-6,"y":0,"n":75},{"x":-6,"y":1,"n":50},{"x":-6,"y":2,"n":25},{"x":-6,"y":3,"n":10},{"x":-6,"y":4,"n":5},
{"x":-5.5,"y":-13,"n":2},{"x":-5.5,"y":-12,"n":5},{"x":-5.5,"y":-11,"n":10},{"x":-5.5,"y":-10,"n":25},{"x":-5.5,"y":-9,"n":25},{"x":-5.5,"y":-8,"n":50},{"x":-5.5,"y":-7,"n":75},{"x":-5.5,"y":-6,"n":100},{"x":-5.5,"y":-5,"n":500},{"x":-5.5,"y":-4,"n":500},{"x":-5.5,"y":-3,"n":500},{"x":-5.5,"y":-2,"n":250},{"x":-5.5,"y":-1,"n":250},{"x":-5.5,"y":0,"n":75},{"x":-5.5,"y":1,"n":50},{"x":-5.5,"y":2,"n":25},{"x":-5.5,"y":3,"n":25},{"x":-5.5,"y":4,"n":10},{"x":-5.5,"y":5,"n":5},
{"x":-5,"y":-12,"n":5},{"x":-5,"y":-11,"n":10},{"x":-5,"y":-10,"n":10},{"x":-5,"y":-9,"n":25},{"x":-5,"y":-8,"n":50},{"x":-5,"y":-7,"n":75},{"x":-5,"y":-6,"n":250},{"x":-5,"y":-5,"n":250},{"x":-5,"y":-4,"n":500},{"x":-5,"y":-3,"n":500},{"x":-5,"y":-2,"n":500},{"x":-5,"y":-1,"n":250},{"x":-5,"y":0,"n":100},{"x":-5,"y":1,"n":75},{"x":-5,"y":2,"n":50},{"x":-5,"y":3,"n":25},{"x":-5,"y":4,"n":10},{"x":-5,"y":5,"n":5},
{"x":-4.5,"y":-12,"n":2},{"x":-4.5,"y":-11,"n":5},{"x":-4.5,"y":-10,"n":10},{"x":-4.5,"y":-9,"n":25},{"x":-4.5,"y":-8,"n":50},{"x":-4.5,"y":-7,"n":75},{"x":-4.5,"y":-6,"n":250},{"x":-4.5,"y":-5,"n":250},{"x":-4.5,"y":-4,"n":500},{"x":-4.5,"y":-3,"n":500},{"x":-4.5,"y":-2,"n":500},{"x":-4.5,"y":-1,"n":250},{"x":-4.5,"y":0,"n":100},{"x":-4.5,"y":1,"n":75},{"x":-4.5,"y":2,"n":50},{"x":-4.5,"y":3,"n":25},{"x":-4.5,"y":4,"n":10},{"x":-4.5,"y":5,"n":5},{"x":-4.5,"y":6,"n":2},
{"x":-4,"y":-11,"n":5},{"x":-4,"y":-10,"n":10},{"x":-4,"y":-9,"n":25},{"x":-4,"y":-8,"n":50},{"x":-4,"y":-7,"n":75},{"x":-4,"y":-6,"n":250},{"x":-4,"y":-5,"n":250},{"x":-4,"y":-4,"n":500},{"x":-4,"y":-3,"n":500},{"x":-4,"y":-2,"n":500},{"x":-4,"y":-1,"n":500},{"x":-4,"y":0,"n":250},{"x":-4,"y":1,"n":75},{"x":-4,"y":2,"n":50},{"x":-4,"y":3,"n":25},{"x":-4,"y":4,"n":10},{"x":-4,"y":5,"n":5},{"x":-4,"y":6,"n":5},{"x":-4,"y":7,"n":2},
{"x":-3.5,"y":-12,"n":2},{"x":-3.5,"y":-11,"n":5},{"x":-3.5,"y":-10,"n":10},{"x":-3.5,"y":-9,"n":25},{"x":-3.5,"y":-8,"n":25},{"x":-3.5,"y":-7,"n":50},{"x":-3.5,"y":-6,"n":75},{"x":-3.5,"y":-5,"n":250},{"x":-3.5,"y":-4,"n":250},{"x":-3.5,"y":-3,"n":500},{"x":-3.5,"y":-2,"n":500},{"x":-3.5,"y":-1,"n":500},{"x":-3.5,"y":0,"n":250},{"x":-3.5,"y":1,"n":100},{"x":-3.5,"y":2,"n":75},{"x":-3.5,"y":3,"n":50},{"x":-3.5,"y":4,"n":25},{"x":-3.5,"y":5,"n":10},{"x":-3.5,"y":6,"n":5},{"x":-3.5,"y":7,"n":2},
{"x":-3,"y":-12,"n":2},{"x":-3,"y":-11,"n":5},{"x":-3,"y":-10,"n":5},{"x":-3,"y":-9,"n":10},{"x":-3,"y":-8,"n":25},{"x":-3,"y":-7,"n":50},{"x":-3,"y":-6,"n":75},{"x":-3,"y":-5,"n":250},{"x":-3,"y":-4,"n":250},{"x":-3,"y":-3,"n":500},{"x":-3,"y":-2,"n":500},{"x":-3,"y":-1,"n":500},{"x":-3,"y":0,"n":500},{"x":-3,"y":1,"n":250},{"x":-3,"y":2,"n":75},{"x":-3,"y":3,"n":50},{"x":-3,"y":4,"n":25},{"x":-3,"y":5,"n":10},{"x":-3,"y":6,"n":5},{"x":-3,"y":7,"n":5},
{"x":-2.5,"y":-11,"n":5},{"x":-2.5,"y":-10,"n":5},{"x":-2.5,"y":-9,"n":10},{"x":-2.5,"y":-8,"n":25},{"x":-2.5,"y":-7,"n":50},{"x":-2.5,"y":-6,"n":75},{"x":-2.5,"y":-5,"n":100},{"x":-2.5,"y":-4,"n":250},{"x":-2.5,"y":-3,"n":500},{"x":-2.5,"y":-2,"n":500},{"x":-2.5,"y":-1,"n":500},{"x":-2.5,"y":0,"n":500},{"x":-2.5,"y":1,"n":250},{"x":-2.5,"y":2,"n":100},{"x":-2.5,"y":3,"n":75},{"x":-2.5,"y":4,"n":50},{"x":-2.5,"y":5,"n":25},{"x":-2.5,"y":6,"n":10},{"x":-2.5,"y":7,"n":5},{"x":-2.5,"y":8,"n":2},
{"x":-2,"y":-11,"n":2},{"x":-2,"y":-10,"n":5},{"x":-2,"y":-9,"n":10},{"x":-2,"y":-8,"n":25},{"x":-2,"y":-7,"n":25},{"x":-2,"y":-6,"n":50},{"x":-2,"y":-5,"n":75},{"x":-2,"y":-4,"n":100},{"x":-2,"y":-3,"n":250},{"x":-2,"y":-2,"n":500},{"x":-2,"y":-1,"n":500},{"x":-2,"y":0,"n":500},{"x":-2,"y":1,"n":500},{"x":-2,"y":2,"n":250},{"x":-2,"y":3,"n":75},{"x":-2,"y":4,"n":50},{"x":-2,"y":5,"n":25},{"x":-2,"y":6,"n":10},{"x":-2,"y":7,"n":5},{"x":-2,"y":8,"n":2},
{"x":-1.5,"y":-11,"n":2},{"x":-1.5,"y":-10,"n":5},{"x":-1.5,"y":-9,"n":5},{"x":-1.5,"y":-8,"n":10},{"x":-1.5,"y":-7,"n":25},{"x":-1.5,"y":-6,"n":50},{"x":-1.5,"y":-5,"n":75},{"x":-1.5,"y":-4,"n":250},{"x":-1.5,"y":-3,"n":250},{"x":-1.5,"y":-2,"n":500},{"x":-1.5,"y":-1,"n":500},{"x":-1.5,"y":0,"n":500},{"x":-1.5,"y":1,"n":500},{"x":-1.5,"y":2,"n":250},{"x":-1.5,"y":3,"n":75},{"x":-1.5,"y":4,"n":50},{"x":-1.5,"y":5,"n":25},{"x":-1.5,"y":6,"n":10},{"x":-1.5,"y":7,"n":5},{"x":-1.5,"y":8,"n":2},
{"x":-1,"y":-10,"n":2},{"x":-1,"y":-9,"n":5},{"x":-1,"y":-8,"n":10},{"x":-1,"y":-7,"n":25},{"x":-1,"y":-6,"n":25},{"x":-1,"y":-5,"n":50},{"x":-1,"y":-4,"n":75},{"x":-1,"y":-3,"n":250},{"x":-1,"y":-2,"n":500},{"x":-1,"y":-1,"n":500},{"x":-1,"y":0,"n":500},{"x":-1,"y":1,"n":500},{"x":-1,"y":2,"n":500},{"x":-1,"y":3,"n":250},{"x":-1,"y":4,"n":75},{"x":-1,"y":5,"n":50},{"x":-1,"y":6,"n":25},{"x":-1,"y":7,"n":10},{"x":-1,"y":8,"n":5},
{"x":-0.5,"y":-10,"n":2},{"x":-0.5,"y":-9,"n":5},{"x":-0.5,"y":-8,"n":10},{"x":-0.5,"y":-7,"n":25},{"x":-0.5,"y":-6,"n":25},{"x":-0.5,"y":-5,"n":50},{"x":-0.5,"y":-4,"n":75},{"x":-0.5,"y":-3,"n":250},{"x":-0.5,"y":-2,"n":500},{"x":-0.5,"y":-1,"n":500},{"x":-0.5,"y":0,"n":500},{"x":-0.5,"y":1,"n":500},{"x":-0.5,"y":2,"n":500},{"x":-0.5,"y":3,"n":250},{"x":-0.5,"y":4,"n":75},{"x":-0.5,"y":5,"n":50},{"x":-0.5,"y":6,"n":25},{"x":-0.5,"y":7,"n":10},{"x":-0.5,"y":8,"n":5},{"x":-0.5,"y":9,"n":2},
{"x":0,"y":-11,"n":2},{"x":0,"y":-10,"n":2},{"x":0,"y":-9,"n":5},{"x":0,"y":-8,"n":5},{"x":0,"y":-7,"n":10},{"x":0,"y":-6,"n":10},{"x":0,"y":-5,"n":25},{"x":0,"y":-4,"n":50},{"x":0,"y":-3,"n":75},{"x":0,"y":-2,"n":250},{"x":0,"y":-1,"n":500},{"x":0,"y":0,"n":500},{"x":0,"y":1,"n":500},{"x":0,"y":2,"n":500},{"x":0,"y":3,"n":250},{"x":0,"y":4,"n":75},{"x":0,"y":5,"n":50},{"x":0,"y":6,"n":25},{"x":0,"y":7,"n":10},{"x":0,"y":8,"n":5},{"x":0,"y":9,"n":2},
{"x":0.5,"y":-9,"n":2},{"x":0.5,"y":-8,"n":5},{"x":0.5,"y":-7,"n":5},{"x":0.5,"y":-6,"n":10},{"x":0.5,"y":-5,"n":25},{"x":0.5,"y":-4,"n":50},{"x":0.5,"y":-3,"n":75},{"x":0.5,"y":-2,"n":250},{"x":0.5,"y":-1,"n":500},{"x":0.5,"y":0,"n":500},{"x":0.5,"y":1,"n":500},{"x":0.5,"y":2,"n":500},{"x":0.5,"y":3,"n":500},{"x":0.5,"y":4,"n":250},{"x":0.5,"y":5,"n":75},{"x":0.5,"y":6,"n":50},{"x":0.5,"y":7,"n":25},{"x":0.5,"y":8,"n":10},{"x":0.5,"y":9,"n":5},{"x":0.5,"y":10,"n":2},
{"x":1,"y":-8,"n":2},{"x":1,"y":-7,"n":5},{"x":1,"y":-6,"n":5},{"x":1,"y":-5,"n":10},{"x":1,"y":-4,"n":25},{"x":1,"y":-3,"n":50},{"x":1,"y":-2,"n":75},{"x":1,"y":-1,"n":250},{"x":1,"y":0,"n":500},{"x":1,"y":1,"n":500},{"x":1,"y":2,"n":500},{"x":1,"y":3,"n":500},{"x":1,"y":4,"n":250},{"x":1,"y":5,"n":75},{"x":1,"y":6,"n":50},{"x":1,"y":7,"n":25},{"x":1,"y":8,"n":10},{"x":1,"y":9,"n":5},{"x":1,"y":10,"n":2},
{"x":1.5,"y":-7,"n":2},{"x":1.5,"y":-6,"n":5},{"x":1.5,"y":-5,"n":10},{"x":1.5,"y":-4,"n":25},{"x":1.5,"y":-3,"n":25},{"x":1.5,"y":-2,"n":50},{"x":1.5,"y":-1,"n":75},{"x":1.5,"y":0,"n":250},{"x":1.5,"y":1,"n":500},{"x":1.5,"y":2,"n":500},{"x":1.5,"y":3,"n":500},{"x":1.5,"y":4,"n":500},{"x":1.5,"y":5,"n":250},{"x":1.5,"y":6,"n":75},{"x":1.5,"y":7,"n":50},{"x":1.5,"y":8,"n":25},{"x":1.5,"y":9,"n":10},{"x":1.5,"y":10,"n":5},{"x":1.5,"y":11,"n":2},
{"x":2,"y":-6,"n":2},{"x":2,"y":-5,"n":5},{"x":2,"y":-4,"n":10},{"x":2,"y":-3,"n":25},{"x":2,"y":-2,"n":50},{"x":2,"y":-1,"n":75},{"x":2,"y":0,"n":250},{"x":2,"y":1,"n":500},{"x":2,"y":2,"n":500},{"x":2,"y":3,"n":500},{"x":2,"y":4,"n":500},{"x":2,"y":5,"n":250},{"x":2,"y":6,"n":75},{"x":2,"y":7,"n":50},{"x":2,"y":8,"n":25},{"x":2,"y":9,"n":10},{"x":2,"y":10,"n":5},{"x":2,"y":11,"n":5},{"x":2,"y":12,"n":2},
{"x":2.5,"y":-6,"n":2},{"x":2.5,"y":-5,"n":5},{"x":2.5,"y":-4,"n":10},{"x":2.5,"y":-3,"n":25},{"x":2.5,"y":-2,"n":50},{"x":2.5,"y":-1,"n":100},{"x":2.5,"y":0,"n":250},{"x":2.5,"y":1,"n":250},{"x":2.5,"y":2,"n":500},{"x":2.5,"y":3,"n":500},{"x":2.5,"y":4,"n":500},{"x":2.5,"y":5,"n":500},{"x":2.5,"y":6,"n":250},{"x":2.5,"y":7,"n":75},{"x":2.5,"y":8,"n":50},{"x":2.5,"y":9,"n":25},{"x":2.5,"y":10,"n":10},{"x":2.5,"y":11,"n":5},{"x":2.5,"y":12,"n":2},
{"x":3,"y":-5,"n":5},{"x":3,"y":-4,"n":10},{"x":3,"y":-3,"n":25},{"x":3,"y":-2,"n":50},{"x":3,"y":-1,"n":75},{"x":3,"y":0,"n":100},{"x":3,"y":1,"n":250},{"x":3,"y":2,"n":500},{"x":3,"y":3,"n":500},{"x":3,"y":4,"n":500},{"x":3,"y":5,"n":500},{"x":3,"y":6,"n":250},{"x":3,"y":7,"n":75},{"x":3,"y":8,"n":50},{"x":3,"y":9,"n":25},{"x":3,"y":10,"n":10},{"x":3,"y":11,"n":5},{"x":3,"y":12,"n":2},
{"x":3.5,"y":-5,"n":2},{"x":3.5,"y":-4,"n":5},{"x":3.5,"y":-3,"n":10},{"x":3.5,"y":-2,"n":25},{"x":3.5,"y":-1,"n":50},{"x":3.5,"y":0,"n":75},{"x":3.5,"y":1,"n":250},{"x":3.5,"y":2,"n":500},{"x":3.5,"y":3,"n":500},{"x":3.5,"y":4,"n":500},{"x":3.5,"y":5,"n":500},{"x":3.5,"y":6,"n":250},{"x":3.5,"y":7,"n":100},{"x":3.5,"y":8,"n":75},{"x":3.5,"y":9,"n":50},{"x":3.5,"y":10,"n":25},{"x":3.5,"y":11,"n":10},{"x":3.5,"y":12,"n":5},{"x":3.5,"y":13,"n":2},
{"x":4,"y":-5,"n":2},{"x":4,"y":-4,"n":5},{"x":4,"y":-3,"n":10},{"x":4,"y":-2,"n":25},{"x":4,"y":-1,"n":50},{"x":4,"y":0,"n":75},{"x":4,"y":1,"n":250},{"x":4,"y":2,"n":250},{"x":4,"y":3,"n":500},{"x":4,"y":4,"n":500},{"x":4,"y":5,"n":500},{"x":4,"y":6,"n":500},{"x":4,"y":7,"n":250},{"x":4,"y":8,"n":75},{"x":4,"y":9,"n":50},{"x":4,"y":10,"n":25},{"x":4,"y":11,"n":10},{"x":4,"y":12,"n":5},{"x":4,"y":13,"n":2},
{"x":4.5,"y":-4,"n":2},{"x":4.5,"y":-3,"n":5},{"x":4.5,"y":-2,"n":10},{"x":4.5,"y":-1,"n":25},{"x":4.5,"y":0,"n":50},{"x":4.5,"y":1,"n":100},{"x":4.5,"y":2,"n":250},{"x":4.5,"y":3,"n":500},{"x":4.5,"y":4,"n":500},{"x":4.5,"y":5,"n":500},{"x":4.5,"y":6,"n":500},{"x":4.5,"y":7,"n":250},{"x":4.5,"y":8,"n":75},{"x":4.5,"y":9,"n":50},{"x":4.5,"y":10,"n":25},{"x":4.5,"y":11,"n":10},{"x":4.5,"y":12,"n":5},{"x":4.5,"y":13,"n":2},
{"x":5,"y":-5,"n":2},{"x":5,"y":-4,"n":5},{"x":5,"y":-3,"n":10},{"x":5,"y":-2,"n":10},{"x":5,"y":-1,"n":25},{"x":5,"y":0,"n":50},{"x":5,"y":1,"n":75},{"x":5,"y":2,"n":250},{"x":5,"y":3,"n":250},{"x":5,"y":4,"n":500},{"x":5,"y":5,"n":500},{"x":5,"y":6,"n":500},{"x":5,"y":7,"n":500},{"x":5,"y":8,"n":100},{"x":5,"y":9,"n":75},{"x":5,"y":10,"n":25},{"x":5,"y":11,"n":10},{"x":5,"y":12,"n":5},{"x":5,"y":13,"n":2},{"x":5,"y":15,"n":2},
{"x":5.5,"y":-4,"n":2},{"x":5.5,"y":-3,"n":5},{"x":5.5,"y":-2,"n":10},{"x":5.5,"y":-1,"n":25},{"x":5.5,"y":0,"n":50},{"x":5.5,"y":1,"n":75},{"x":5.5,"y":2,"n":100},{"x":5.5,"y":3,"n":250},{"x":5.5,"y":4,"n":500},{"x":5.5,"y":5,"n":500},{"x":5.5,"y":6,"n":500},{"x":5.5,"y":7,"n":500},{"x":5.5,"y":8,"n":250},{"x":5.5,"y":9,"n":75},{"x":5.5,"y":10,"n":50},{"x":5.5,"y":11,"n":25},{"x":5.5,"y":12,"n":10},{"x":5.5,"y":13,"n":5},{"x":5.5,"y":14,"n":2},
{"x":6,"y":-3,"n":2},{"x":6,"y":-2,"n":5},{"x":6,"y":-1,"n":10},{"x":6,"y":0,"n":25},{"x":6,"y":1,"n":50},{"x":6,"y":2,"n":75},{"x":6,"y":3,"n":250},{"x":6,"y":4,"n":250},{"x":6,"y":5,"n":500},{"x":6,"y":6,"n":500},{"x":6,"y":7,"n":500},{"x":6,"y":8,"n":250},{"x":6,"y":9,"n":75},{"x":6,"y":10,"n":50},{"x":6,"y":11,"n":25},{"x":6,"y":12,"n":10},{"x":6,"y":13,"n":5},{"x":6,"y":14,"n":2},
{"x":6.5,"y":-3,"n":2},{"x":6.5,"y":-2,"n":5},{"x":6.5,"y":-1,"n":5},{"x":6.5,"y":0,"n":10},{"x":6.5,"y":1,"n":25},{"x":6.5,"y":2,"n":50},{"x":6.5,"y":3,"n":100},{"x":6.5,"y":4,"n":250},{"x":6.5,"y":5,"n":500},{"x":6.5,"y":6,"n":500},{"x":6.5,"y":7,"n":500},{"x":6.5,"y":8,"n":500},{"x":6.5,"y":9,"n":250},{"x":6.5,"y":10,"n":75},{"x":6.5,"y":11,"n":50},{"x":6.5,"y":12,"n":25},{"x":6.5,"y":13,"n":5},{"x":6.5,"y":14,"n":2},
{"x":7,"y":-2,"n":5},{"x":7,"y":-1,"n":5},{"x":7,"y":0,"n":10},{"x":7,"y":1,"n":25},{"x":7,"y":2,"n":50},{"x":7,"y":3,"n":75},{"x":7,"y":4,"n":250},{"x":7,"y":5,"n":250},{"x":7,"y":6,"n":500},{"x":7,"y":7,"n":500},{"x":7,"y":8,"n":500},{"x":7,"y":9,"n":250},{"x":7,"y":10,"n":75},{"x":7,"y":11,"n":50},{"x":7,"y":12,"n":25},{"x":7,"y":13,"n":10},{"x":7,"y":14,"n":2},
{"x":7.5,"y":-2,"n":2},{"x":7.5,"y":-1,"n":5},{"x":7.5,"y":0,"n":5},{"x":7.5,"y":1,"n":10},{"x":7.5,"y":2,"n":25},{"x":7.5,"y":3,"n":50},{"x":7.5,"y":4,"n":100},{"x":7.5,"y":5,"n":250},{"x":7.5,"y":6,"n":500},{"x":7.5,"y":7,"n":500},{"x":7.5,"y":8,"n":500},{"x":7.5,"y":9,"n":250},{"x":7.5,"y":10,"n":75},{"x":7.5,"y":11,"n":50},{"x":7.5,"y":12,"n":25},{"x":7.5,"y":13,"n":10},{"x":7.5,"y":14,"n":5},{"x":7.5,"y":15,"n":2},
{"x":8,"y":-2,"n":2},{"x":8,"y":-1,"n":5},{"x":8,"y":0,"n":5},{"x":8,"y":1,"n":10},{"x":8,"y":2,"n":25},{"x":8,"y":3,"n":50},{"x":8,"y":4,"n":75},{"x":8,"y":5,"n":250},{"x":8,"y":6,"n":250},{"x":8,"y":7,"n":500},{"x":8,"y":8,"n":500},{"x":8,"y":9,"n":250},{"x":8,"y":10,"n":75},{"x":8,"y":11,"n":50},{"x":8,"y":12,"n":25},{"x":8,"y":13,"n":10},{"x":8,"y":14,"n":5},{"x":8,"y":15,"n":2},
{"x":8.5,"y":-1,"n":2},{"x":8.5,"y":0,"n":5},{"x":8.5,"y":1,"n":5},{"x":8.5,"y":2,"n":10},{"x":8.5,"y":3,"n":25},{"x":8.5,"y":4,"n":50},{"x":8.5,"y":5,"n":100},{"x":8.5,"y":6,"n":250},{"x":8.5,"y":7,"n":500},{"x":8.5,"y":8,"n":500},{"x":8.5,"y":9,"n":250},{"x":8.5,"y":10,"n":100},{"x":8.5,"y":11,"n":75},{"x":8.5,"y":12,"n":25},{"x":8.5,"y":13,"n":10},{"x":8.5,"y":14,"n":5},{"x":8.5,"y":15,"n":2},
{"x":9,"y":-1,"n":2},{"x":9,"y":0,"n":5},{"x":9,"y":1,"n":10},{"x":9,"y":2,"n":10},{"x":9,"y":3,"n":25},{"x":9,"y":4,"n":50},{"x":9,"y":5,"n":75},{"x":9,"y":6,"n":250},{"x":9,"y":7,"n":500},{"x":9,"y":8,"n":500},{"x":9,"y":9,"n":250},{"x":9,"y":10,"n":250},{"x":9,"y":11,"n":75},{"x":9,"y":12,"n":50},{"x":9,"y":13,"n":25},{"x":9,"y":14,"n":10},{"x":9,"y":15,"n":5},{"x":9,"y":16,"n":2},
{"x":9.5,"y":0,"n":2},{"x":9.5,"y":1,"n":5},{"x":9.5,"y":2,"n":5},{"x":9.5,"y":3,"n":10},{"x":9.5,"y":4,"n":25},{"x":9.5,"y":5,"n":50},{"x":9.5,"y":6,"n":75},{"x":9.5,"y":7,"n":250},{"x":9.5,"y":8,"n":250},{"x":9.5,"y":9,"n":250},{"x":9.5,"y":10,"n":250},{"x":9.5,"y":11,"n":100},{"x":9.5,"y":12,"n":75},{"x":9.5,"y":13,"n":25},{"x":9.5,"y":14,"n":10},{"x":9.5,"y":15,"n":5},{"x":9.5,"y":16,"n":2},
{"x":10,"y":1,"n":2},{"x":10,"y":2,"n":5},{"x":10,"y":3,"n":10},{"x":10,"y":4,"n":25},{"x":10,"y":5,"n":50},{"x":10,"y":6,"n":75},{"x":10,"y":7,"n":250},{"x":10,"y":8,"n":250},{"x":10,"y":9,"n":250},{"x":10,"y":10,"n":250},{"x":10,"y":11,"n":100},{"x":10,"y":12,"n":75},{"x":10,"y":13,"n":50},{"x":10,"y":14,"n":25},{"x":10,"y":15,"n":10},{"x":10,"y":16,"n":5},
{"x":10.5,"y":2,"n":5},{"x":10.5,"y":3,"n":10},{"x":10.5,"y":4,"n":25},{"x":10.5,"y":5,"n":25},{"x":10.5,"y":6,"n":50},{"x":10.5,"y":7,"n":100},{"x":10.5,"y":8,"n":250},{"x":10.5,"y":9,"n":250},{"x":10.5,"y":10,"n":250},{"x":10.5,"y":11,"n":100},{"x":10.5,"y":12,"n":75},{"x":10.5,"y":13,"n":50},{"x":10.5,"y":14,"n":25},{"x":10.5,"y":15,"n":5},{"x":10.5,"y":16,"n":2},
{"x":11,"y":1.5,"n":2},{"x":11,"y":3,"n":5},{"x":11,"y":4,"n":10},{"x":11,"y":5,"n":25},{"x":11,"y":6,"n":50},{"x":11,"y":7,"n":75},{"x":11,"y":8,"n":250},{"x":11,"y":9,"n":250},{"x":11,"y":10,"n":250},{"x":11,"y":11,"n":100},{"x":11,"y":12,"n":75},{"x":11,"y":13,"n":50},{"x":11,"y":14,"n":25},{"x":11,"y":15,"n":10},{"x":11,"y":16,"n":2},
{"x":11.5,"y":3,"n":5},{"x":11.5,"y":4,"n":10},{"x":11.5,"y":5,"n":25},{"x":11.5,"y":6,"n":25},{"x":11.5,"y":7,"n":50},{"x":11.5,"y":8,"n":75},{"x":11.5,"y":9,"n":100},{"x":11.5,"y":10,"n":250},{"x":11.5,"y":11,"n":100},{"x":11.5,"y":12,"n":75},{"x":11.5,"y":13,"n":50},{"x":11.5,"y":14,"n":25},{"x":11.5,"y":15,"n":5},{"x":11.5,"y":16,"n":5},
{"x":12,"y":1,"n":2},{"x":12,"y":2,"n":2},{"x":12,"y":3.5,"n":5},{"x":12,"y":5,"n":10},{"x":12,"y":6,"n":25},{"x":12,"y":7,"n":50},{"x":12,"y":8,"n":75},{"x":12,"y":9,"n":100},{"x":12,"y":10,"n":250},{"x":12,"y":11,"n":100},{"x":12,"y":12,"n":75},{"x":12,"y":13,"n":50},{"x":12,"y":14,"n":25},{"x":12,"y":15,"n":10},{"x":12,"y":16,"n":2},
{"x":12.5,"y":1.5,"n":5},{"x":12.5,"y":5,"n":5},{"x":12.5,"y":6,"n":10},{"x":12.5,"y":7,"n":25},{"x":12.5,"y":8,"n":50},{"x":12.5,"y":9,"n":75},{"x":12.5,"y":10,"n":100},{"x":12.5,"y":11,"n":100},{"x":12.5,"y":12,"n":75},{"x":12.5,"y":13,"n":50},{"x":12.5,"y":14,"n":25},{"x":12.5,"y":15,"n":5},{"x":12.5,"y":16,"n":2},
{"x":13,"y":1.5,"n":2},{"x":13,"y":2.5,"n":5},{"x":13,"y":6,"n":5},{"x":13,"y":7,"n":10},{"x":13,"y":8,"n":25},{"x":13,"y":9,"n":50},{"x":13,"y":10,"n":75},{"x":13,"y":11,"n":100},{"x":13,"y":12,"n":75},{"x":13,"y":13,"n":50},{"x":13,"y":14,"n":25},{"x":13,"y":15,"n":10},{"x":13,"y":16,"n":2},
{"x":13.5,"y":7,"n":5},{"x":13.5,"y":8,"n":10},{"x":13.5,"y":9,"n":25},{"x":13.5,"y":10,"n":50},{"x":13.5,"y":11,"n":75},{"x":13.5,"y":12,"n":75},{"x":13.5,"y":13,"n":50},{"x":13.5,"y":14,"n":25},{"x":13.5,"y":15,"n":10},{"x":13.5,"y":16,"n":5},
{"x":14,"y":8,"n":2},{"x":14,"y":9,"n":10},{"x":14,"y":10,"n":25},{"x":14,"y":11,"n":50},{"x":14,"y":12,"n":75},{"x":14,"y":13,"n":50},{"x":14,"y":14,"n":50},{"x":14,"y":15,"n":25},{"x":14,"y":16,"n":5},
{"x":14.5,"y":8,"n":2},{"x":14.5,"y":9,"n":10},{"x":14.5,"y":10,"n":25},{"x":14.5,"y":11,"n":25},{"x":14.5,"y":12,"n":50},{"x":14.5,"y":13,"n":50},{"x":14.5,"y":14,"n":25},{"x":14.5,"y":15,"n":25},{"x":14.5,"y":16,"n":5},
{"x":15,"y":3,"n":2},{"x":15,"y":3.5,"n":2},{"x":15,"y":9,"n":5},{"x":15,"y":10,"n":10},{"x":15,"y":11,"n":25},{"x":15,"y":12,"n":50},{"x":15,"y":13,"n":50},{"x":15,"y":14,"n":25},{"x":15,"y":15,"n":25},{"x":15,"y":16,"n":5},
{"x":15.5,"y":4,"n":5},{"x":15.5,"y":5,"n":5},{"x":15.5,"y":6,"n":2},{"x":15.5,"y":6.5,"n":2},{"x":15.5,"y":10,"n":2},{"x":15.5,"y":11,"n":10},{"x":15.5,"y":12,"n":25},{"x":15.5,"y":13,"n":25},{"x":15.5,"y":14,"n":25},{"x":15.5,"y":15,"n":10},{"x":15.5,"y":16,"n":5},
{"x":16,"y":10,"n":2},{"x":16,"y":11,"n":10},{"x":16,"y":12,"n":10},{"x":16,"y":13,"n":25},{"x":16,"y":14,"n":25},{"x":16,"y":15,"n":10},{"x":16,"y":16,"n":5},{"x":16,"y":17,"n":5},
{"x":16.5,"y":4,"n":5},{"x":16.5,"y":11,"n":2},{"x":16.5,"y":12,"n":10},{"x":16.5,"y":13,"n":5},{"x":16.5,"y":14,"n":5},{"x":16.5,"y":15,"n":10},{"x":16.5,"y":16,"n":2},{"x":16.5,"y":17,"n":5},
{"x":17,"y":5,"n":5},{"x":17,"y":12,"n":2},{"x":17,"y":13,"n":5},{"x":17,"y":14,"n":5},{"x":17,"y":15,"n":2},{"x":17,"y":16,"n":5},
{"x":17.5,"y":13,"n":5},{"x":17.5,"y":14,"n":2},{"x":18,"y":6.5,"n":5},{"x":18,"y":13,"n":5},{"x":18,"y":14,"n":2},{"x":18,"y":15,"n":2},{"x":18,"y":17,"n":2},{"x":18,"y":17.5,"n":2},{"x":18.5,"y":8.5,"n":2},{"x":18.5,"y":9,"n":2},{"x":18.5,"y":13,"n":5},{"x":19.5,"y":7.5,"n":2},{"x":19.5,"y":8,"n":2},{"x":21.5,"y":9.7,"n":5},{"x":21.5,"y":10,"n":2},{"x":21.5,"y":10.5,"n":2}]}}
